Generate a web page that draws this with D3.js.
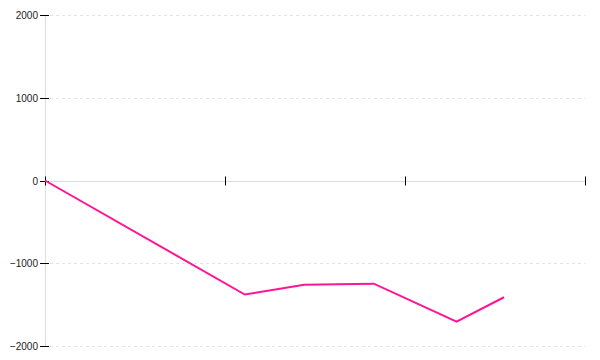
<!DOCTYPE html>
<html>
<head>
<meta charset="utf-8">
<script src="https://cdn.jsdelivr.net/npm/d3@7"></script>
<style>
    body { margin: 0; background: #fff; }
    .tick-label { font-family: "Liberation Sans", Arial, sans-serif; font-size: 10px; fill: #222; }
</style>
</head>
<body>
<div id="chart"></div>
<script>
// values
let xValues = [0, 33.3, 43.2, 54.8, 68.6, 76.5];
let yValues = [0, -1378, -1259, -1247, -1706, -1411];
let xTicks = [0, 30, 60, 90];
let yTicks = [-2000, -1000, 0, 1000, 2000];

let width = 600, height = 360;
let margin = {top: 15, right: 15, bottom: 14, left: 45};

let svg = d3.select('#chart').append('svg')
    .attr('width', width)
    .attr('height', height);

let x = d3.scaleLinear().domain([0, 90]).range([margin.left, width - margin.right]);
let y = d3.scaleLinear().domain([-2000, 2000]).range([height - margin.bottom, margin.top]);

// dashed grid lines
svg.selectAll('line.grid')
    .data(yTicks.filter(d => d !== 0))
    .enter().append('line')
    .attr('class', 'grid')
    .attr('x1', margin.left + 5)
    .attr('x2', width - margin.right)
    .attr('y1', d => Math.round(y(d)) + 0.5)
    .attr('y2', d => Math.round(y(d)) + 0.5)
    .attr('stroke', '#e4e4e4')
    .attr('stroke-dasharray', '3,3');

// y axis line
svg.append('line')
    .attr('x1', margin.left + 0.5)
    .attr('x2', margin.left + 0.5)
    .attr('y1', y(2000))
    .attr('y2', y(-2000))
    .attr('stroke', '#ddd');

// x axis line at zero
svg.append('line')
    .attr('x1', margin.left)
    .attr('x2', width - margin.right)
    .attr('y1', Math.round(y(0)) + 0.5)
    .attr('y2', Math.round(y(0)) + 0.5)
    .attr('stroke', '#ddd');

// y ticks and labels
let yt = svg.selectAll('g.ytick')
    .data(yTicks)
    .enter().append('g')
    .attr('class', 'ytick')
    .attr('transform', d => 'translate(0,' + (Math.round(y(d)) + 0.5) + ')');
yt.append('line')
    .attr('x1', margin.left - 5)
    .attr('x2', margin.left + 4)
    .attr('stroke', '#000');
yt.append('text')
    .attr('class', 'tick-label')
    .attr('x', margin.left - 7)
    .attr('dy', '0.35em')
    .attr('text-anchor', 'end')
    .text(d => d3.format('d')(d).replace('-', '\u2212'));

// x ticks (no labels)
svg.selectAll('line.xtick')
    .data(xTicks)
    .enter().append('line')
    .attr('class', 'xtick')
    .attr('x1', d => Math.round(x(d)) + 0.5)
    .attr('x2', d => Math.round(x(d)) + 0.5)
    .attr('y1', y(0) - 4)
    .attr('y2', y(0) + 5)
    .attr('stroke', '#000');

// the series
let line = d3.line()
    .x((d, i) => x(xValues[i]))
    .y(d => y(d));

svg.append('path')
    .datum(yValues)
    .attr('d', line)
    .attr('fill', 'none')
    .attr('stroke', '#ff1493')
    .attr('stroke-width', 2);
</script>
</body>
</html>
